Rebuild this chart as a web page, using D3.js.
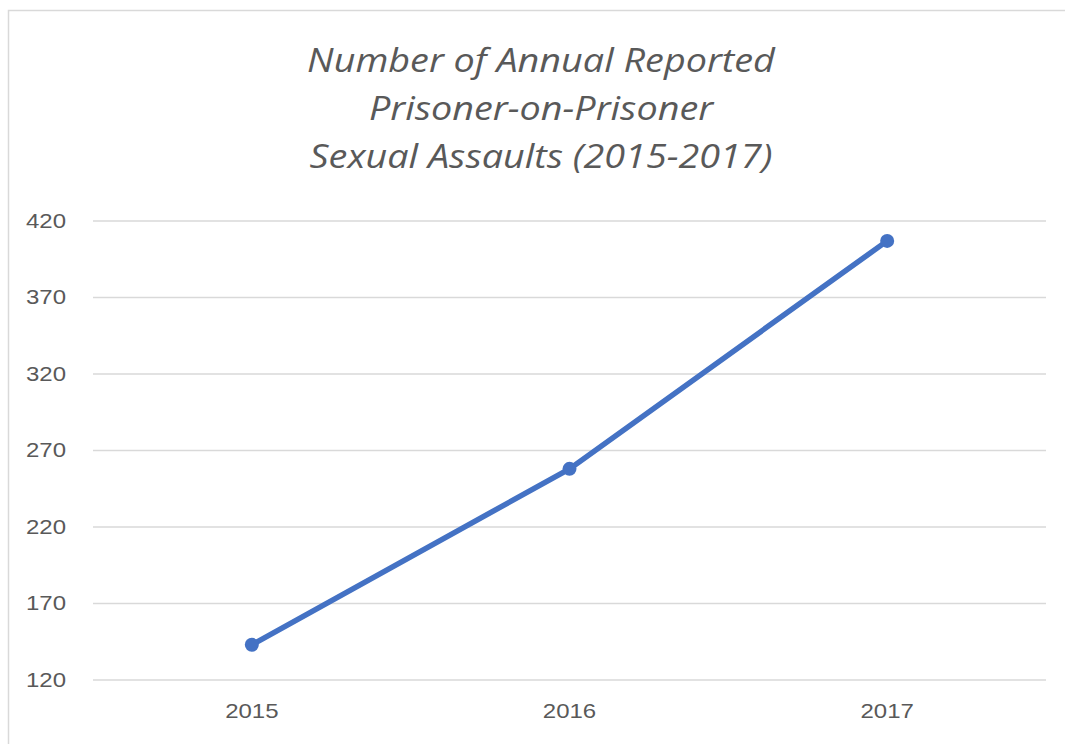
<!DOCTYPE html>
<html>
<head>
<meta charset="utf-8">
<script src="https://cdn.jsdelivr.net/npm/d3@7"></script>
<style>
  body { margin: 0; background: #fff; }
  svg { display: block; }
</style>
</head>
<body>
<svg id="chart" width="1065" height="744"></svg>
<script>
const years = ["2015", "2016", "2017"];
const assaults = [143, 258, 407];
const yTicks = [120, 170, 220, 270, 320, 370, 420];
const titleLines = ["Number of Annual Reported", "Prisoner-on-Prisoner", "Sexual Assaults (2015-2017)"];

const width = 1065, height = 744;
const margin = { left: 93, right: 19, top: 221, bottom: 64 };

const svg = d3.select("#chart");

// chart frame
svg.append("rect")
  .attr("x", 8.5).attr("y", 10.5)
  .attr("width", 1070).attr("height", 760)
  .attr("fill", "#fff")
  .attr("stroke", "#d9d9d9")
  .attr("stroke-width", 1.5);

// title (source looks horizontally stretched, so widen the glyphs a bit)
svg.append("g").selectAll("text")
  .data(titleLines)
  .enter().append("text")
  .attr("transform", (d, i) => "translate(541," + (72 + i * 48) + ") scale(1.18,1)")
  .attr("text-anchor", "middle")
  .attr("font-family", "'Open Sans', sans-serif")
  .attr("font-style", "italic")
  .attr("font-weight", 400)
  .attr("font-size", 32)
  .attr("fill", "#595959")
  .text(d => d);

const x = d3.scaleBand()
  .domain(years)
  .range([margin.left, width - margin.right]);

const y = d3.scaleLinear()
  .domain([120, 420])
  .range([height - margin.bottom, margin.top]);

// gridlines
svg.append("g").selectAll("line")
  .data(yTicks)
  .enter().append("line")
  .attr("x1", margin.left).attr("x2", width - margin.right)
  .attr("y1", d => y(d)).attr("y2", d => y(d))
  .attr("stroke", "#d9d9d9")
  .attr("stroke-width", 1.3);

// y axis labels
const yAxis = svg.append("g")
  .attr("transform", "translate(" + 66 + ",0)")
  .call(d3.axisLeft(y).tickValues(yTicks).tickSize(0).tickPadding(0));
yAxis.select(".domain").remove();
yAxis.selectAll("text")
  .attr("x", 0)
  .attr("transform", "scale(1.2,1)")
  .attr("font-family", "'Liberation Sans', Arial, sans-serif")
  .attr("font-size", 20)
  .attr("fill", "#595959");

// x axis labels
const xAxis = svg.append("g")
  .attr("transform", "translate(0," + 704 + ")")
  .call(d3.axisBottom(x).tickSize(0).tickPadding(0));
xAxis.select(".domain").remove();
xAxis.selectAll("text")
  .attr("y", 0)
  .attr("dy", "0.71em")
  .attr("transform", "scale(1.2,1)")
  .attr("font-family", "'Liberation Sans', Arial, sans-serif")
  .attr("font-size", 20)
  .attr("fill", "#595959");

const pts = years.map((d, i) => [x(d) + x.bandwidth() / 2, y(assaults[i])]);

svg.append("path")
  .datum(pts)
  .attr("fill", "none")
  .attr("stroke", "#4472c4")
  .attr("stroke-width", 5.5)
  .attr("stroke-linecap", "round")
  .attr("d", d3.line());

svg.append("g").selectAll("circle")
  .data(pts)
  .enter().append("circle")
  .attr("cx", d => d[0])
  .attr("cy", d => d[1])
  .attr("r", 7)
  .attr("fill", "#4472c4");
</script>
</body>
</html>
